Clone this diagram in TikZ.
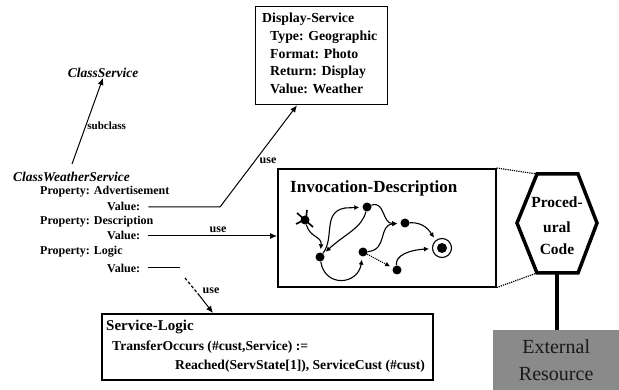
\documentclass[tikz,border=0pt]{standalone}
\usepackage{fontspec}
\setmainfont{Liberation Serif}
\usetikzlibrary{arrows.meta}
\definecolor{extgray}{HTML}{8A8A8A}
\tikzset{
  lbl/.style={font=\fontsize{12}{13}\selectfont\bfseries, inner sep=0pt, anchor=west},
  slbl/.style={font=\fontsize{13.6}{14}\selectfont\bfseries, inner sep=0pt, anchor=west},
  dlbl/.style={font=\fontsize{13.8}{14}\selectfont\bfseries, inner sep=0pt, anchor=west},
  cls/.style={font=\fontsize{13.5}{14}\selectfont\bfseries\itshape, inner sep=0pt},
  uselbl/.style={font=\fontsize{12}{13}\selectfont\bfseries, fill=white, inner sep=0.5pt},
  conn/.style={line width=1pt},
  arr/.style={line width=1pt, -{Latex[length=7pt,width=6pt]}},
  gedge/.style={line width=1.1pt, -{Latex[length=5pt,width=5pt]}, shorten >=3pt},
  gnode/.style={circle, fill=black, minimum size=9pt, inner sep=0pt},
  hextxt/.style={font=\fontsize{15.5}{16}\selectfont\bfseries, inner sep=0pt},
}
\begin{document}
\begin{tikzpicture}[x=1pt,y=-1pt]
\useasboundingbox (0,0) rectangle (619,390);
% class part
\node[cls] (cs) at (103,73) {ClassService};
\node[cls, anchor=west] (cws) at (13,177) {ClassWeatherService};
\coordinate (cwsTop) at (72,164);
\draw[arr] (cwsTop) -- (cs.south) node[pos=0.45, font=\fontsize{11}{12}\selectfont\bfseries, inner sep=1pt, anchor=west] {subclass};
\node[lbl] (p1) at (40,192) {Property: Advertisement};
\node[lbl] (v1) at (107,206) {Value:};
\node[lbl] (p2) at (40,222) {Property: Description};
\node[lbl] (v2) at (107,235) {Value:};
\node[lbl] (p3) at (40,252) {Property: Logic};
\node[lbl] (v3) at (107,268) {Value:};
% display service box
\node[draw, line width=1.3pt, minimum width=132pt, minimum height=98pt, anchor=north west, inner sep=0pt] (ds) at (255,6) {};
\node[dlbl] (dst) at (262,19) {Display-Service};
\node[dlbl] (dst1) at (270,37) {Type: Geographic};
\node[dlbl] (dst2) at (270,54) {Format: Photo};
\node[dlbl] (dst3) at (270,72) {Return: Display};
\node[dlbl] (dst4) at (270,89) {Value: Weather};
% invocation box
\node[draw, line width=1.6pt, minimum width=218pt, minimum height=118pt, anchor=north west, inner sep=0pt] (inv) at (277,168) {};
\node[font=\fontsize{17}{18}\selectfont\bfseries, inner sep=0pt, anchor=west] (invt) at (290,188) {Invocation-Description};
% service logic box
\node[draw, line width=1.6pt, minimum width=331pt, minimum height=66pt, anchor=north west, inner sep=0pt] (sl) at (101,313) {};
\node[font=\fontsize{15}{16}\selectfont\bfseries, inner sep=0pt, anchor=west] (slt) at (106,327) {Service-Logic};
\node[slbl] (sl1) at (112,347) {TransferOccurs (\#cust,Service) :=};
\node[slbl] (sl2) at (175,366) {Reached(ServState[1]), ServiceCust (\#cust)};
% connectors from values
\coordinate (bend1) at (220,207);
\draw[arr] (v1.east) ++(8,1) coordinate (v1s) -- (bend1) -- (ds.south west -| 297,0) ;
\node[uselbl] (u1) at (268,161) {use};
\draw[arr] (v2.east) ++(8,1) coordinate (v2s) -- (inv.west |- v2s);
\node[uselbl, fill=none] (u2) at (218,230) {use};
\coordinate (v3e) at (180,268);
\draw[conn] (v3.east) ++(8,0) coordinate (v3s) -- (v3e);
\coordinate (dstart) at (185,278);
\draw[line width=1.2pt, densely dashed] (dstart) -- (199,295);
\draw[arr] (199,295) coordinate (dmid) -- (sl.north -| 213,0);
\node[uselbl] (u3) at (211,291) {use};
% hexagon
\coordinate (h1) at (537,174);
\coordinate (h2) at (578,174);
\coordinate (h3) at (597,223);
\coordinate (h4) at (578,273);
\coordinate (h5) at (537,273);
\coordinate (h6) at (517,223);
\draw[line width=3.5pt, line join=miter, fill=white] (h1) -- (h2) -- (h3) -- (h4) -- (h5) -- (h6) -- cycle;
\node[hextxt] (pc1) at (557,202) {Proced-};
\node[hextxt] (pc2) at (557,227) {ural};
\node[hextxt] (pc3) at (557,249) {Code};
\draw[line width=1.2pt, densely dotted] (inv.north east) -- (h1);
\draw[line width=1.2pt, densely dotted] (inv.south east) -- (h5);
% external resource
\node[fill=extgray, minimum width=126pt, minimum height=60pt, anchor=north west, inner sep=0pt, align=center,
      font=\fontsize{20}{27}\selectfont, text=black!90] (ext) at (493,330) {External\\Resource};
\draw[line width=4pt] (557,273) coordinate (hb) -- (ext.north -| hb);
% graph inside invocation box
\node[gnode] (S) at (305,220) {};
\draw[line width=1.6pt] (297,213) -- (313,227) (296,224) -- (304,220) (307,210) -- (306,219);
\node[gnode] (A) at (320,257) {};
\node[gnode] (B) at (367,207) {};
\node[gnode] (C) at (405,223) {};
\node[gnode] (D) at (363,252) {};
\node[gnode] (E) at (397,270) {};
\node[circle, fill=black, minimum size=10pt, inner sep=0pt] (F) at (442,248) {};
\node[circle, draw, line width=1.1pt, minimum size=19pt, inner sep=0pt] (Fo) at (442,248) {};
\draw[gedge] (S) .. controls (310,238) and (322,236) .. (A);
\draw[gedge] (A) .. controls (335,238) and (322,212) .. (345,208) -- (B);
\draw[gedge] (B) .. controls (362,228) and (345,234) .. (A);
\draw[gedge] (B) .. controls (385,200) and (382,224) .. (C);
\draw[gedge] (C) .. controls (425,222) and (430,232) .. (Fo);
\draw[gedge] (A) .. controls (325,288) and (358,285) .. (D);
\draw[gedge] (D) .. controls (388,250) and (378,225) .. (C);
\draw[line width=1.1pt, densely dotted, -{Latex[length=5pt,width=5pt]}, shorten >=3pt] (D) -- (E);
\draw[gedge] (E) .. controls (395,255) and (410,250) .. (Fo);
\end{tikzpicture}
\end{document}
